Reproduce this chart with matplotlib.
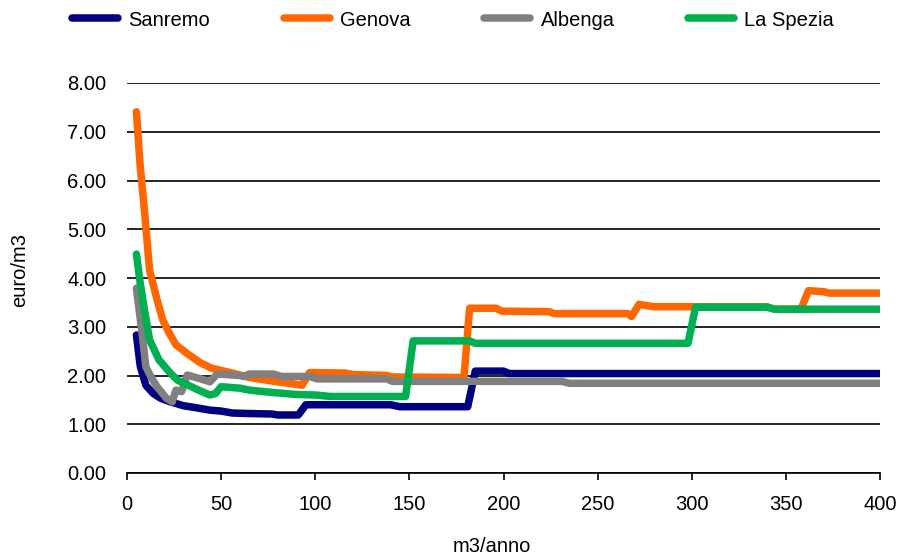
import matplotlib
matplotlib.use('Agg')
import matplotlib.pyplot as plt

plt.rcParams['font.family'] = ['Liberation Sans', 'DejaVu Sans']

# data (m3/anno -> euro/m3)
sanremo_x = [5, 7, 10, 14, 18, 23, 30, 35, 44, 50, 56, 65, 77, 80, 91, 95, 140, 145, 181, 185, 200, 203, 400]
sanremo_y = [2.83, 2.2, 1.80, 1.63, 1.53, 1.46, 1.38, 1.35, 1.29, 1.27, 1.23, 1.22, 1.21, 1.19, 1.19, 1.40, 1.40, 1.36, 1.36, 2.09, 2.09, 2.04, 2.04]

genova_x = [5, 7, 9, 12, 16, 19, 22, 26, 32, 39, 45, 56, 65, 80, 88, 93, 97, 116, 120, 138, 141, 179, 182, 196, 199, 224,
            227, 266, 268, 272, 280, 340, 344, 358, 362, 370, 373, 400]
genova_y = [7.41, 6.3, 5.5, 4.16, 3.55, 3.14, 2.9, 2.63, 2.45, 2.26, 2.15, 2.05, 1.96, 1.87, 1.83, 1.80, 2.06, 2.05, 2.02, 2.0,
            1.97, 1.96, 3.38, 3.38, 3.32, 3.31, 3.27, 3.27, 3.21, 3.46, 3.41, 3.41, 3.36, 3.36, 3.74, 3.72, 3.69, 3.69]

albenga_x = [5, 8, 10, 13, 16, 21, 24, 26, 29, 32, 40, 44, 48, 60, 62, 65, 78, 82, 97, 101, 138, 141, 231, 235, 400]
albenga_y = [3.79, 2.87, 2.18, 1.95, 1.77, 1.53, 1.46, 1.70, 1.67, 2.01, 1.92, 1.87, 2.03, 2.0, 1.98, 2.03, 2.03, 1.98, 1.98,
             1.93, 1.93, 1.88, 1.88, 1.84, 1.84]

spezia_x = [5, 7, 9, 12, 17, 23, 27, 32, 38, 44, 47, 50, 60, 65, 75, 90, 100, 108, 148, 152, 182, 185, 298, 302, 340, 344, 400]
spezia_y = [4.49, 3.9, 3.41, 2.73, 2.32, 2.05, 1.9, 1.81, 1.70, 1.60, 1.63, 1.77, 1.74, 1.70, 1.66, 1.61, 1.60, 1.57, 1.57,
            2.71, 2.71, 2.66, 2.66, 3.40, 3.40, 3.36, 3.36]

series = [
    ('Sanremo', sanremo_x, sanremo_y, '#000080'),
    ('Genova', genova_x, genova_y, '#FF6600'),
    ('Albenga', albenga_x, albenga_y, '#808080'),
    ('La Spezia', spezia_x, spezia_y, '#00B050'),
]

fs = 14.5

fig = plt.figure(figsize=(9, 5.56), dpi=100)
ax = fig.add_axes([127/900, 1-473/556, 753/900, 390/556])

for name, xs, ys, col in series:
    ax.plot(xs, ys, color=col, lw=5.4, label=name, solid_capstyle='round', solid_joinstyle='round', zorder=3)

ax.set_xlim(0, 400)
ax.set_ylim(0, 8)
ax.set_xticks(range(0, 401, 50))
ax.set_yticks(range(0, 9))
ax.set_yticklabels(['%.2f' % v for v in range(0, 9)])
ax.yaxis.grid(True, color='black', lw=1.2)
ax.set_axisbelow(True)
for s in ['top', 'right', 'left']:
    ax.spines[s].set_visible(False)
ax.spines['bottom'].set_linewidth(1.2)
ax.tick_params(axis='x', direction='out', length=5, width=1.2, labelsize=fs, pad=11)
ax.tick_params(axis='y', length=0, labelsize=fs, pad=15)

ax.set_xlabel('m3/anno', fontsize=fs)
ax.xaxis.set_label_coords(0.485, -0.163)
ax.set_ylabel('euro/m3', fontsize=fs)
ax.yaxis.set_label_coords(-0.13, 0.52)

fig.legend(loc='center left', bbox_to_anchor=(72/900, 1-20/556), ncol=4, frameon=False,
           fontsize=fs, handlelength=2.3, handletextpad=0.5, columnspacing=3.65,
           borderpad=0, borderaxespad=0)

fig.savefig('out.png', dpi=100)
